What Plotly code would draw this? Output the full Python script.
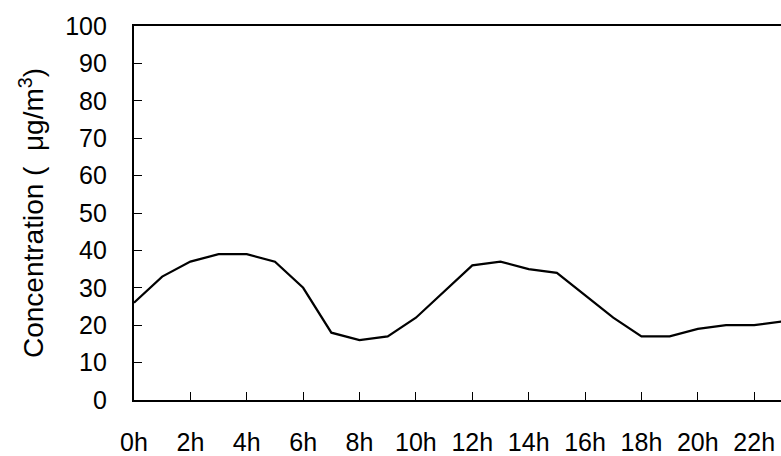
import plotly.graph_objects as go

hours = list(range(24))
hour_labels = [f"{h}h" for h in hours]
concentration = [26, 33, 37, 39, 39, 37, 30, 18, 16, 17, 22, 29, 36, 37, 35, 34, 28, 22, 17, 17, 19, 20, 20, 21]
tick_hours = hours[::2]
tick_labels = hour_labels[::2]
y_ticks = list(range(0, 101, 10))

fig = go.Figure()
fig.add_trace(go.Scatter(
    x=hours, y=concentration, mode="lines",
    line=dict(color="black", width=2.2), showlegend=False, hoverinfo="skip",
))

font = "Liberation Sans, Arial, sans-serif"
fig.update_layout(
    width=781, height=456,
    margin=dict(l=134, r=0, t=26, b=56),
    paper_bgcolor="white", plot_bgcolor="white",
    font=dict(family=font, color="black", size=25),
    xaxis=dict(
        range=[0, 22.95], tickmode="array", tickvals=tick_hours, ticktext=tick_labels,
        ticks="inside", ticklen=8, tickwidth=1.2, tickcolor="black",
        showline=True, linecolor="black", linewidth=2.2, mirror=True,
        showgrid=False, zeroline=False, tickfont=dict(size=25, family=font),
        ticklabelstandoff=19, automargin=False,
    ),
    yaxis=dict(
        range=[0, 100], tickmode="array", tickvals=y_ticks,
        ticks="inside", ticklen=8, tickwidth=1.2, tickcolor="black",
        showline=True, linecolor="black", linewidth=2.2,
        showgrid=False, zeroline=False, tickfont=dict(size=25, family=font),
        ticklabelstandoff=20, automargin=False,
        title=dict(text="Concentration (  μg/m<sup>3</sup>)", font=dict(size=28, family=font), standoff=13),
    ),
)
fig.write_html("out.html", config={"displayModeBar": False},
               post_script="document.body.style.margin='0';")
